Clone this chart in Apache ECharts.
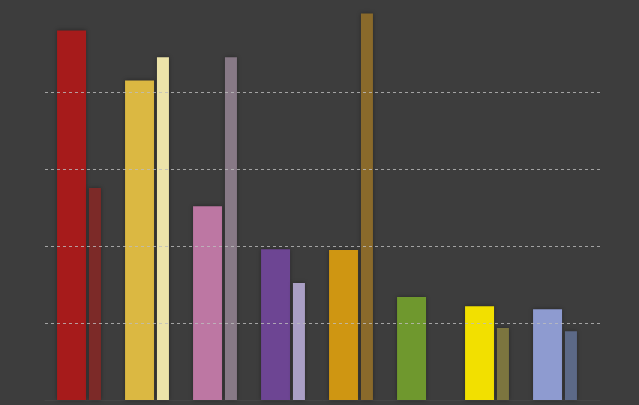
<!DOCTYPE html>
<html>
<head>
<meta charset="utf-8">
<script src="https://cdn.jsdelivr.net/npm/echarts@6/dist/echarts.min.js"></script>
<style>html,body{margin:0;padding:0;background:#3d3d3d;}#c{width:639px;height:405px;}</style>
</head>
<body>
<div id="c"></div>
<script>
var categories = ['A','B','C','D','E','F','G','H'];
var mainValues = [96.1, 83.1, 50.4, 39.2, 39.0, 26.8, 24.4, 23.6];
var subValues = [55.1, 89.1, 89.1, 30.4, 100.5, null, 18.7, 17.9];
var gridTicks = [20, 40, 60, 80];
var mainColors = ['#a61b1b','#dbb842','#bd77a3','#6d4593','#cf9612','#6f982e','#f2e000','#8e9bd0'];
var subColors = ['#7c2a28','#ece3a9','#877986','#aa9fc5','#8a6a2b','#000','#7c753f','#5c6987'];

var chart = echarts.init(document.getElementById('c'));
chart.setOption({
  backgroundColor: '#3d3d3d',
  animation: false,
  grid: [{left: 45, right: 50, top: 0, bottom: 5}, {left: 45, right: 39, top: 0, bottom: 5}],
  xAxis: [
    {type: 'category', data: categories, gridIndex: 0, axisLabel: {show: false}, axisTick: {show: false},
     axisLine: {show: false}},
    {type: 'category', data: categories, gridIndex: 1, axisLabel: {show: false}, axisTick: {show: false},
     axisLine: {show: true, lineStyle: {color: '#454545'}}}
  ],
  yAxis: [
    {type: 'value', gridIndex: 0, min: 0, max: 104, show: false, splitLine: {show: false}},
    {type: 'value', gridIndex: 1, min: 0, max: 104, show: false, splitLine: {show: false}}
  ],
  series: [
    {type: 'bar', xAxisIndex: 1, yAxisIndex: 1, data: categories.map(function(){return null;}), z: 0,
     markLine: {silent: true, symbol: 'none', label: {show: false},
       lineStyle: {color: '#bdbdbd', type: [3, 3], width: 1, opacity: 0.8},
       data: gridTicks.map(function(t){return {yAxis: t};})}
    },
    {type: 'bar', barWidth: 29, barGap: '10%', z: 3,
     data: mainValues.map(function(v,i){return {value: v, itemStyle: {color: mainColors[i]}};}),
     itemStyle: {shadowBlur: 4, shadowColor: 'rgba(0,0,0,0.35)'}
    },
    {type: 'bar', barWidth: 12, z: 3,
     data: subValues.map(function(v,i){return {value: v, itemStyle: {color: subColors[i]}};}),
     itemStyle: {shadowBlur: 4, shadowColor: 'rgba(0,0,0,0.35)'}
    }
  ]
});
</script>
</body>
</html>
